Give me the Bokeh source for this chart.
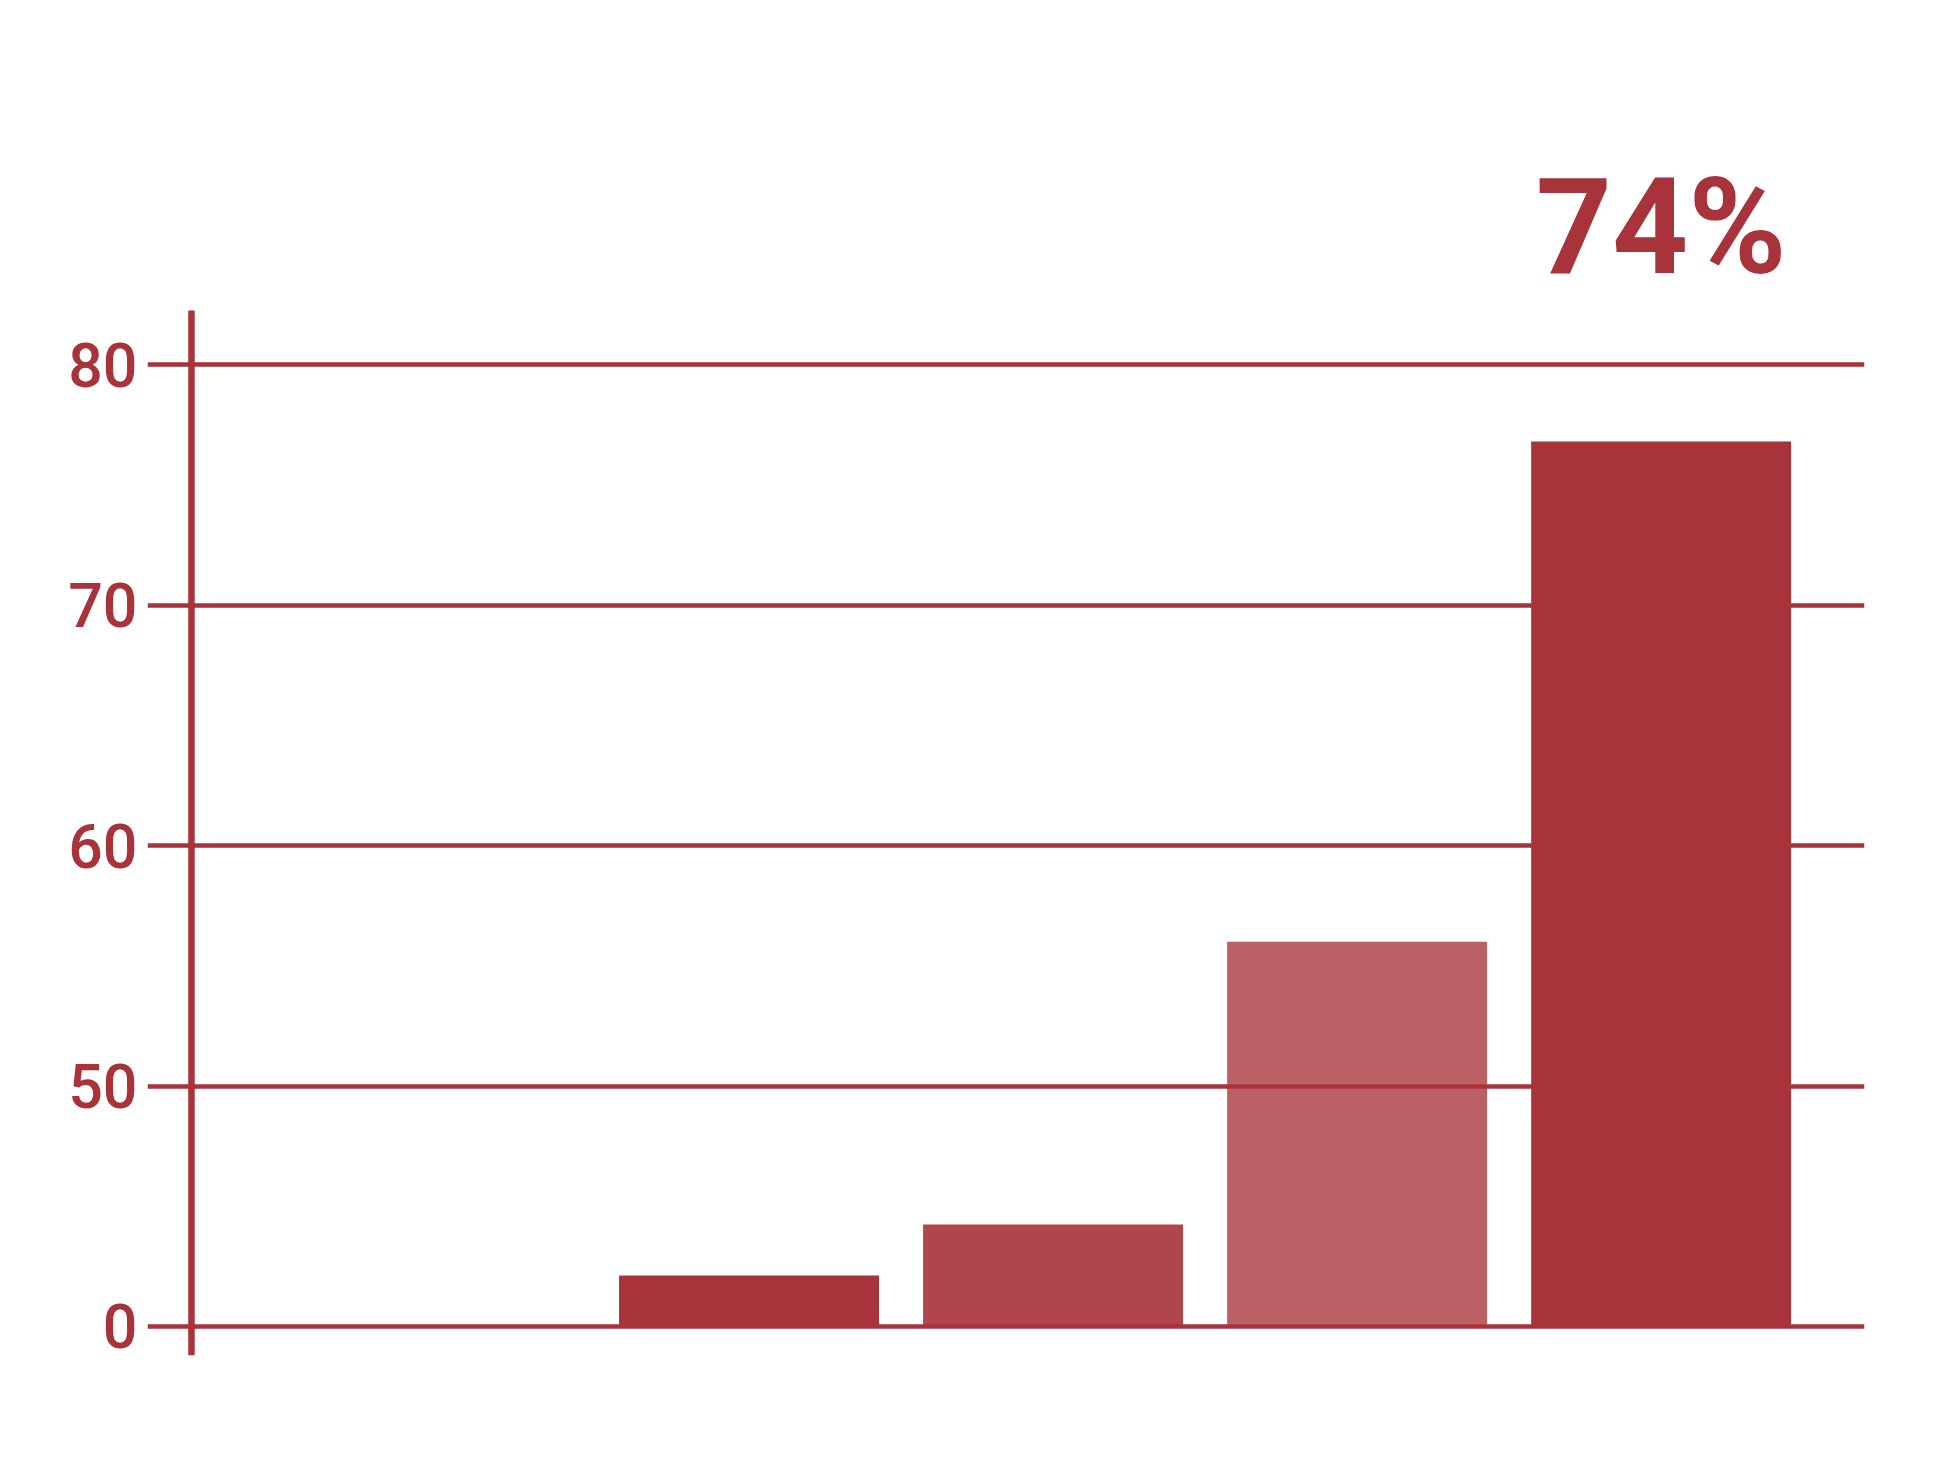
from bokeh.plotting import figure
from bokeh.models import Range1d, FixedTicker, ColumnDataSource
from bokeh.embed import file_html
from bokeh.resources import INLINE
from bokeh.core.properties import value

# ---- data ----
categories = ["A", "B", "C", "D", "E"]
values = [0, 10.6, 21.2, 56.0, 76.8]          # in axis-label units (broken axis)
tick_values = [0, 50, 60, 70, 80]
tick_labels = ["0", "50", "60", "70", "80"]
highlight_label = "74%"

# ---- styles ----
RED = "#A8333A"
bar_alphas = [1.0, 1.0, 0.91, 0.78, 1.0]


def to_axis(v):
    # broken axis: 0..50 compressed into one band, above 50 linear
    return v / 5.0 if v <= 50 else v - 40.0


xs = [i + 0.5 for i in range(len(categories))]
tops = [to_axis(v) for v in values]
src = ColumnDataSource(dict(x=xs, top=tops, alpha=bar_alphas, cat=categories))

p = figure(width=1908, height=1448, output_backend="svg", toolbar_location=None,
           x_range=Range1d(-0.4786, 5.169), y_range=Range1d(-1.206, 50.15),
           min_border_left=147, min_border_right=44, min_border_top=120,
           min_border_bottom=93)
p.outline_line_color = None
p.background_fill_color = "white"
p.border_fill_color = "white"
p.xaxis.visible = False
p.xgrid.visible = False

# grid lines
tick_pos = [to_axis(v) for v in tick_values]
p.ygrid.ticker = FixedTicker(ticks=tick_pos)
p.ygrid.grid_line_color = RED
p.ygrid.grid_line_width = 4.5

# y axis: labels only
yax = p.yaxis[0]
yax.ticker = FixedTicker(ticks=tick_pos)
yax.major_label_overrides = {pos: lab for pos, lab in zip(tick_pos, tick_labels)}
yax.axis_line_color = None
yax.major_tick_line_color = None
yax.minor_tick_line_color = None
yax.major_tick_out = 0
yax.major_tick_in = 0
yax.major_label_standoff = 10
yax.major_label_text_font = "Roboto Medium, Roboto"
yax.major_label_text_font_size = "61px"
yax.major_label_text_color = RED

# bars
p.vbar(x="x", top="top", bottom=0, width=0.855, source=src,
       fill_color=RED, fill_alpha="alpha", line_color=None)

# vertical axis line
p.segment(x0=[-0.334], y0=[-1.206], x1=[-0.334], y1=[42.25],
          line_color=RED, line_width=6.5)

# highlight label above the last bar
p.text(x=[xs[-1]], y=[tops[-1] + 8.9], text=[highlight_label],
       text_font=value("Roboto"), text_font_style="bold",
       text_font_size="133px", text_color=RED,
       text_align="center", text_baseline="middle")

open("out.html", "w").write(file_html(p, INLINE))
